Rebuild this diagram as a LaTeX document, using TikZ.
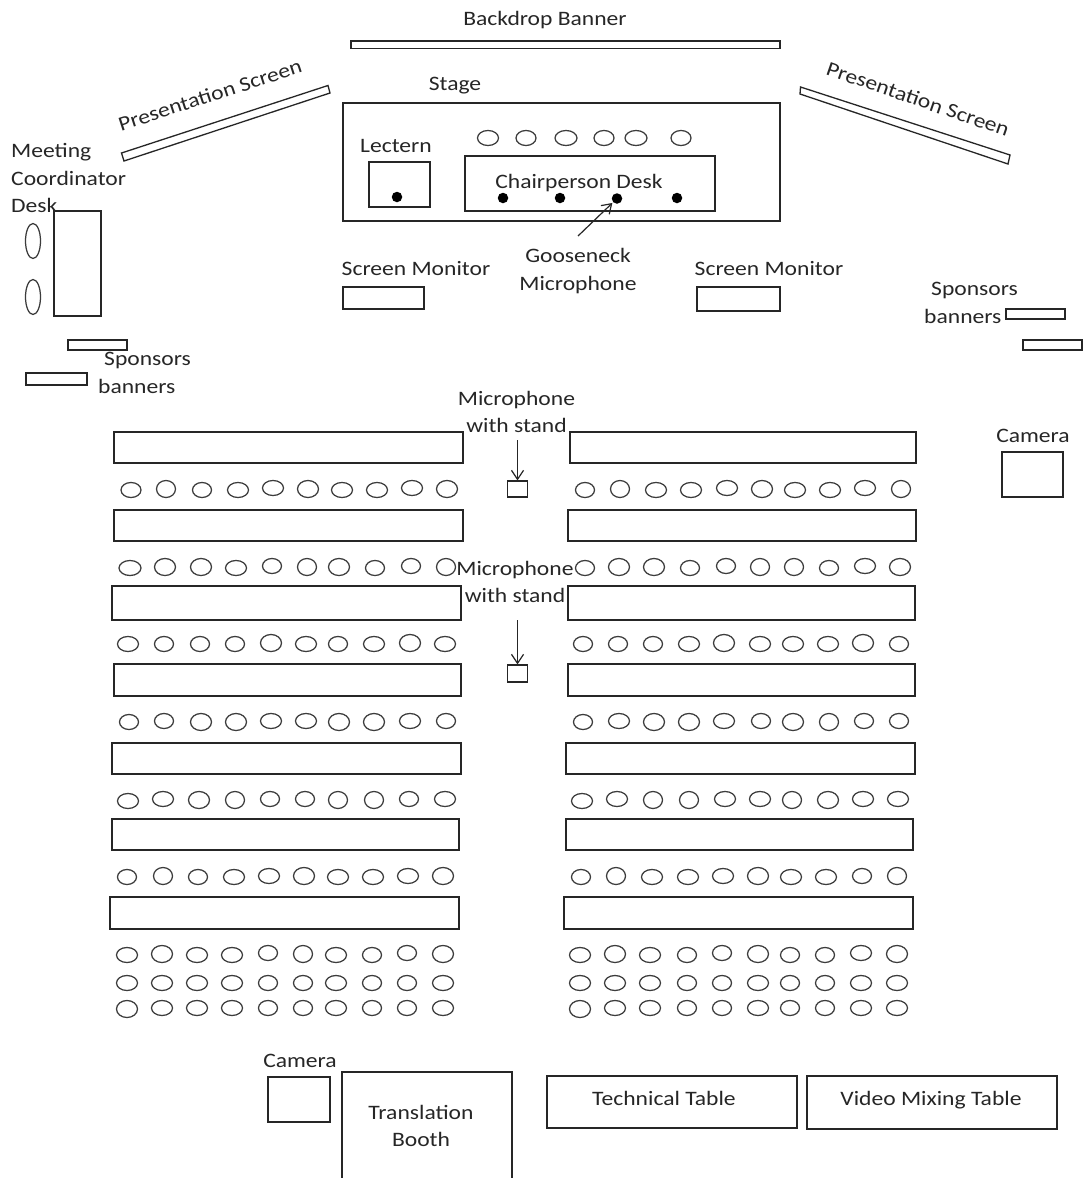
\documentclass[tikz,border=0pt]{standalone}
\usepackage{fontspec}
\setmainfont[FakeStretch=1.15]{Carlito}
\usetikzlibrary{arrows.meta}
\definecolor{ink}{HTML}{262626}
\tikzset{
  box/.style={draw=ink,line width=1.3pt},
  seatline/.style={draw=ink!90,line width=1.25pt},
  lbl/.style={text=ink,inner sep=0pt,align=center,font=\fontsize{20.5}{27.5}\selectfont},
  lbll/.style={lbl,align=left},
  micbox/.style={draw=ink,line width=1.2pt,minimum width=20pt,minimum height=16pt,inner sep=0pt},
  dotmark/.style={circle,fill=black,minimum size=10.5pt,inner sep=0pt},
  pointer/.style={draw=ink,line width=1.2pt,-{Straight Barb[length=9pt,width=12pt]}}
}
\newcommand{\seatsrow}[1]{\foreach \x/\y/\w/\h in {#1}{\draw[seatline] (\x,\y) ellipse [x radius=\w pt/2,y radius=\h pt/2];}}
\begin{document}
\begin{tikzpicture}[x=1pt,y=-1pt]
\useasboundingbox (0,0) rectangle (1083,1178);
\fill[white] (0,0) rectangle (1083,1178);
% top
\draw[box] (351,41) rectangle (780,48.5);
\draw[box] (121.5,153) -- (328,85.5) -- (330,93) -- (124,161) -- cycle;
\draw[box] (800.5,87) -- (1010,155) -- (1008,164) -- (800,94) -- cycle;
\draw[box] (343,103) rectangle (780,221);
\draw[box] (369,162) rectangle (430,207);
\draw[box] (465,156) rectangle (715,211);
\node[dotmark] (lecdot) at (397,197) {};
\node[dotmark] (d1) at (503,198) {};
\node[dotmark] (d2) at (560,198) {};
\node[dotmark] (d3) at (617,198.5) {};
\node[dotmark] (d4) at (677,198) {};
\seatsrow{488/138/21/15,526/138/20/15,566/138/22/15,604/138/20/15,636/138/22/15,681/138/20/15}
% coordinator
\draw[box] (54,211) rectangle (101,316);
\draw[seatline] (33,241) ellipse [x radius=7.5pt,y radius=17.5pt];
\draw[seatline] (33,297) ellipse [x radius=7.5pt,y radius=17.5pt];
\draw[box] (68,340) rectangle (127,350);
\draw[box] (26,373) rectangle (87,385);
\draw[box] (343,287) rectangle (424,309);
\draw[box] (697,287) rectangle (780,311);
\draw[box] (1006,309) rectangle (1065,319);
\draw[box] (1023,340) rectangle (1082,350);
% tables
\draw[box] (114,432) rectangle (463,463);
\draw[box] (114,510) rectangle (463,541);
\draw[box] (112,586) rectangle (461,620);
\draw[box] (114,664) rectangle (461,696);
\draw[box] (112,743) rectangle (461,774);
\draw[box] (112,819) rectangle (459,850);
\draw[box] (110,897) rectangle (459,929);
\draw[box] (570,432) rectangle (916,463);
\draw[box] (568,510) rectangle (916,541);
\draw[box] (568,586) rectangle (915,620);
\draw[box] (568,664) rectangle (915,696);
\draw[box] (566,743) rectangle (915,774);
\draw[box] (566,819) rectangle (913,850);
\draw[box] (564,897) rectangle (913,929);
% left seats
\seatsrow{131/490/20/15,166/489/19/17,202/490/19/15,238/490/21/15,273/488/21/15,308/489/21/17,342/490/21/15,377/490/21/15,412/488/21/15,447/489/21/17}
\seatsrow{130/568/22/15,165/567/21/17,201/567/21/17,236/568/21/15,272/566/19/15,307/567/19/17,339/567/21/17,375/568/19/15,411/566/19/15,446/567/19/17}
\seatsrow{128/644/21/15,164/644/19/15,200/644/19/15,235/644/19/15,271/643/21/17,306/644/21/15,338/644/19/15,374/644/21/15,410/643/21/17,445/644/21/15}
\seatsrow{129/722/19/15,164/721/19/15,201/722/21/17,236/722/21/17,271/721/21/15,306/721/21/15,339/722/21/17,374/722/21/17,410/721/21/15,446/721/19/15}
\seatsrow{128/801/21/15,163/799/21/15,199/800/21/17,235/800/19/17,270/799/19/15,305/799/19/15,338/800/19/17,374/800/19/17,409/799/19/15,445/799/21/15}
\seatsrow{127/877/19/15,163/876/19/17,198/877/19/15,234/877/21/15,269/876/21/15,304/876/21/17,338/877/21/15,373/877/21/15,408/876/21/15,443/876/21/17}
\seatsrow{127/955/21/15,162/954/21/17,197/955/21/15,232/955/21/15,268/953/19/15,303/954/19/17,336/955/21/15,372/955/19/15,407/953/19/15,443/954/21/17}
\seatsrow{127/983/21/15,162/983/21/15,197/983/21/15,232/983/21/15,268/983/19/15,303/983/19/15,336/983/21/15,372/983/19/15,407/983/19/15,443/983/21/15}
\seatsrow{127/1009/21/17,162/1008/21/15,197/1008/21/15,232/1008/21/15,268/1008/19/15,303/1008/19/15,336/1008/21/15,372/1008/19/15,407/1008/19/15,443/1008/21/15}
% right seats
\seatsrow{585/490/19/15,620/489/19/17,656/490/21/15,691/490/21/15,727/488/21/15,762/489/21/17,795/490/21/15,830/490/21/15,865/488/21/15,901/489/19/17}
\seatsrow{585/568/19/15,619/567/21/17,654/567/21/17,690/568/19/15,726/566/19/15,760/567/19/17,794/567/19/17,829/568/19/15,865/566/21/15,900/567/21/17}
\seatsrow{583/644/19/15,618/644/19/15,653/644/19/15,689/644/21/15,724/643/21/17,760/644/21/15,793/644/21/15,828/644/21/15,863/643/21/17,899/644/19/15}
\seatsrow{583/722/19/15,619/721/21/15,654/722/21/17,689/722/21/17,724/721/21/15,761/721/19/15,793/722/21/17,829/722/19/17,864/721/19/15,899/721/19/15}
\seatsrow{582/801/21/15,617/799/21/15,653/800/19/17,689/800/19/17,725/799/21/15,760/799/21/15,792/800/19/17,828/800/21/17,863/799/21/15,898/799/21/15}
\seatsrow{581/877/19/15,616/876/19/17,652/877/21/15,688/877/21/15,723/876/21/15,758/876/21/17,791/877/21/15,826/877/21/15,862/876/19/15,897/876/19/17}
\seatsrow{580/955/21/15,615/954/21/17,650/955/21/15,687/955/19/15,722/953/19/15,758/954/21/17,790/955/19/15,825/955/19/15,861/953/21/15,897/954/21/17}
\seatsrow{580/983/21/15,615/983/21/15,650/983/21/15,687/983/19/15,722/983/19/15,758/983/21/15,790/983/19/15,825/983/19/15,861/983/21/15,897/983/21/15}
\seatsrow{580/1009/21/17,615/1008/21/15,650/1008/21/15,687/1008/19/15,722/1008/19/15,758/1008/21/15,790/1008/19/15,825/1008/19/15,861/1008/21/15,897/1008/21/15}
% bottom
\draw[box] (268,1077) rectangle (330,1122);
\draw[box] (1002,452) rectangle (1063,497);
\draw[box] (342,1178) -- (342,1072) -- (512,1072) -- (512,1178);
\draw[box] (547,1076) rectangle (797,1128);
\draw[box] (807,1076) rectangle (1057,1129);
% microphones
\node[micbox] (micA) at (517.5,489) {};
\node[micbox,minimum height=17pt] (micB) at (517.5,673.5) {};
\coordinate (micAtop) at (517.5,440);
\coordinate (micBtop) at (517.5,620);
\coordinate (gooseTail) at (578,236);
\draw[pointer] (micAtop) -- (micA.north);
\draw[pointer] (micBtop) -- (micB.north);
\draw[pointer,shorten >=1pt] (gooseTail) -- (d3);
% labels
\node[lbl] (tBanner) at (545,20) {Backdrop Banner};
\node[lbl] (tStage) at (455,86) {Stage};
\node[lbl] (tLect) at (396,146) {Lectern};
\node[lbl] (tChair) at (579,183) {Chairperson Desk};
\node[lbl] (tGoose) at (578,271) {Gooseneck\\Microphone};
\node[lbl] (tMonA) at (416,269) {Screen Monitor};
\node[lbl] (tMonB) at (769,269) {Screen Monitor};
\node[lbl,rotate=18] (tScrA) at (210,95) {Presentation Screen};
\node[lbl,rotate=-19] (tScrB) at (918,99) {Presentation Screen};
\node[lbll,anchor=west] (tCoord) at (11,178) {Meeting\\Coordinator\\Desk};
\node[lbll,anchor=west] (tSpA) at (98,373) {\hspace*{6pt}Sponsors\\banners};
\node[lbll,anchor=west] (tSpB) at (924,303) {\hspace*{7pt}Sponsors\\banners};
\node[lbl] (tMicA) at (516.5,412) {Microphone\\with stand};
\node[lbl] (tMicB) at (515,582) {Microphone\\with stand};
\node[lbl] (tCamA) at (1033,436) {Camera};
\node[lbl] (tCamB) at (300,1061) {Camera};
\node[lbl] (tBooth) at (421,1126) {Translation\\Booth};
\node[lbl] (tTech) at (664,1098) {Technical Table};
\node[lbl] (tVideo) at (931,1100) {Video Mixing Table};
\end{tikzpicture}
\end{document}
